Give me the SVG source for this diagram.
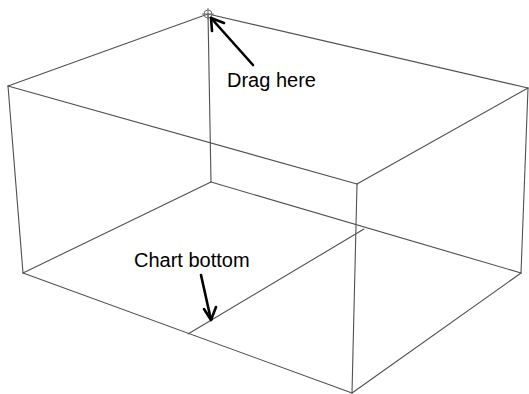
<svg xmlns="http://www.w3.org/2000/svg" width="529" height="394" viewBox="0 0 529 394">
<style>
.edge{stroke:#505050;stroke-width:1.1;fill:none;stroke-linecap:round}
.arrow{stroke:#000;stroke-width:2.6;fill:none;stroke-linecap:round;stroke-linejoin:round}
.lbl{font-family:"Liberation Sans",Arial,sans-serif;font-size:20px;fill:#000}
.handle{stroke:#707070;stroke-width:1;fill:none}
</style>
<rect width="529" height="394" fill="#fff"/>
<g id="connectors">
<line class="edge" x1="208" y1="14" x2="8" y2="86"/>
<line class="edge" x1="208" y1="14" x2="528" y2="88"/>
<line class="edge" x1="8" y1="86" x2="357" y2="184"/>
<line class="edge" x1="528" y1="88" x2="357" y2="184"/>
<line class="edge" x1="8" y1="86" x2="23" y2="273"/>
<line class="edge" x1="528" y1="88" x2="521" y2="273"/>
<line class="edge" x1="357" y1="184" x2="352" y2="393"/>
<line class="edge" x1="208" y1="14" x2="211" y2="182"/>
<line class="edge" x1="211" y1="182" x2="23" y2="273"/>
<line class="edge" x1="211" y1="182" x2="521" y2="273"/>
<line class="edge" x1="23" y1="273" x2="352" y2="393"/>
<line class="edge" x1="521" y1="273" x2="352" y2="393"/>
<line class="edge" x1="188" y1="334" x2="364" y2="229"/>
</g>
<g id="handle">
<circle class="handle" cx="208" cy="14" r="4"/>
<line class="handle" x1="202" y1="14" x2="214" y2="14"/>
<line class="handle" x1="208" y1="8" x2="208" y2="20"/>
</g>
<g id="drag-arrow">
<path class="arrow" d="M253,65 L211,18"/>
<path class="arrow" d="M212,31 L211,18 L224,23"/>
</g>
<g id="drag-label">
<text class="lbl" x="227" y="87">Drag here</text>
</g>
<g id="bottom-arrow">
<path class="arrow" d="M201,275 L211,320"/>
<path class="arrow" d="M204,309 L211,320 L216,307"/>
</g>
<g id="bottom-label">
<text class="lbl" x="134" y="267">Chart bottom</text>
</g>
</svg>
